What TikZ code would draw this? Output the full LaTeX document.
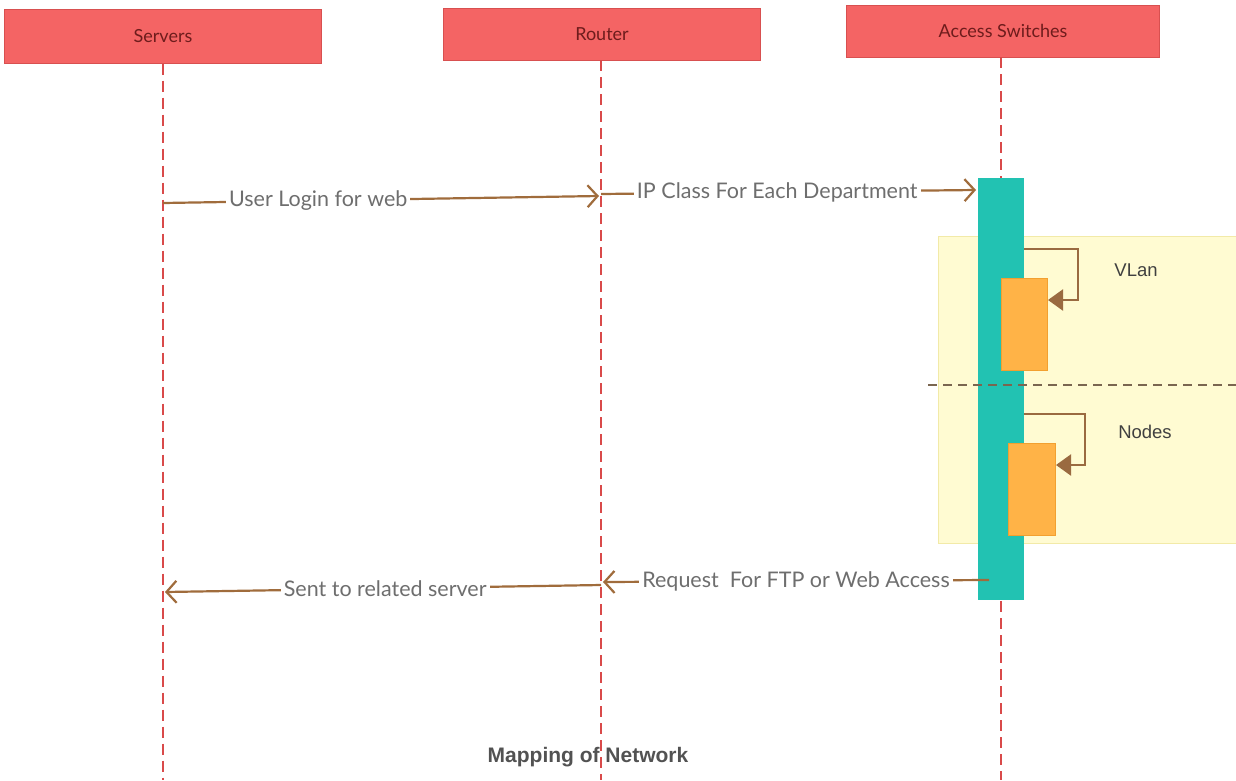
\documentclass[tikz,border=0pt]{standalone}
\usepackage{fontspec}
\setmainfont{Lato}
\newfontfamily\titlefont{Liberation Sans}
\usetikzlibrary{arrows.meta}
\definecolor{headfill}{HTML}{F46464}
\definecolor{headline}{HTML}{D85050}
\definecolor{headtext}{HTML}{6E1C1C}
\definecolor{lifered}{HTML}{D94A4A}
\definecolor{msgbrown}{HTML}{A06C3C}
\definecolor{msgtext}{HTML}{6E6E6E}
\definecolor{tealbar}{HTML}{22C2B2}
\definecolor{orangebox}{HTML}{FFB347}
\definecolor{orangeline}{HTML}{F2A030}
\definecolor{zonefill}{HTML}{FFFBD2}
\definecolor{zoneline}{HTML}{F2EAA8}
\definecolor{loopbrown}{HTML}{9A6A40}
\definecolor{dashgray}{HTML}{7A6650}
\tikzset{
  header/.style={draw=headline, fill=headfill, line width=1pt, text=headtext,
    font=\fontsize{18}{20}\selectfont, minimum height=54pt, inner sep=0pt},
  lifeline/.style={draw=lifered, line width=2pt, dash pattern=on 11pt off 6pt},
  msg/.style={draw=msgbrown, line width=2.2pt, -{Straight Barb[length=10pt,width=22pt,line width=2.2pt]}},
  msglabel/.style={fill=white, text=msgtext, inner sep=3pt, font=\fontsize{21.5}{24}\selectfont},
  selfloop/.style={draw=loopbrown, line width=2.2pt, -{Triangle[length=15pt,width=21pt]}},
  zonelabel/.style={text=black!75, font=\titlefont\fontsize{18.5}{20}\selectfont}
}
\begin{document}
\begin{tikzpicture}[x=1pt,y=-1pt]
\useasboundingbox[fill=white] (0,0) rectangle (1236,780);

% participants
\node[header, minimum width=317pt] (srv) at (163,36) {Servers};
\node[header, minimum width=317pt, minimum height=52pt] (rtr) at (602,34) {Router};
\node[header, minimum width=313pt, minimum height=52pt] (acc) at (1003,31) {Access Switches};

% caption
\node[text=black!68, font=\titlefont\bfseries\fontsize{21}{23}\selectfont] (cap) at (588,757) {Mapping of Network};

% lifelines
\coordinate (srvEnd) at (163,780);
\coordinate (rtrEnd) at (601,780);
\coordinate (accEnd) at (1001,780);
\draw[lifeline] (srv.south) -- (srvEnd);
\draw[lifeline] (601,60) -- (rtrEnd);
\draw[lifeline] (1001,57) -- (accEnd);

% VLan / Nodes zone
\node[draw=zoneline, fill=zonefill, line width=1pt, minimum width=298pt, minimum height=307pt,
  inner sep=0pt, anchor=north west] (zone) at (938,236) {};

% activation bar
\node[fill=tealbar, minimum width=46pt, minimum height=422pt, inner sep=0pt, anchor=north west] (bar) at (978,178) {};

% zone separator
\coordinate (sepL) at (928,385);
\coordinate (sepR) at (1236,385);
\draw[dashgray, line width=1.8pt, dash pattern=on 9pt off 6pt] (sepL) -- (sepR);

% nested activations
\node[draw=orangeline, fill=orangebox, line width=1pt, minimum width=46pt, minimum height=92pt,
  inner sep=0pt, anchor=north west] (vlanbox) at (1001,278) {};
\node[draw=orangeline, fill=orangebox, line width=1pt, minimum width=47pt, minimum height=92pt,
  inner sep=0pt, anchor=north west] (nodebox) at (1008,443) {};

% self calls
\coordinate (v0) at (1024,249);
\draw[selfloop] (v0) -- (1078,249) -- (1078,300) -- (vlanbox.east |- 0,300);
\coordinate (n0) at (1024,414);
\draw[selfloop] (n0) -- (1085,414) -- (1085,465) -- (nodebox.east |- 0,465);
\node[zonelabel] (vlanlbl) at (1136,270) {VLan};
\node[zonelabel] (nodelbl) at (1145,432) {Nodes};

% messages
\coordinate (m1s) at (163,203);
\coordinate (m1e) at (599,196);
\draw[msg] (m1s) -- node[msglabel, pos=0.356] (m1l) {User Login for web} (m1e);

\coordinate (m2s) at (601,194);
\coordinate (m2e) at (976,190);
\draw[msg] (m2s) -- node[msglabel, pos=0.47] (m2l) {IP Class For Each Department} (m2e);

\coordinate (m3s) at (989,580);
\coordinate (m3e) at (603,582);
\draw[msg] (m3s) -- node[msglabel, pos=0.5] (m3l) {Request\ \ For FTP or Web Access} (m3e);

\coordinate (m4s) at (601,585);
\coordinate (m4e) at (165,592);
\draw[msg] (m4s) -- node[msglabel, pos=0.495] (m4l) {Sent to related server} (m4e);
\end{tikzpicture}
\end{document}
